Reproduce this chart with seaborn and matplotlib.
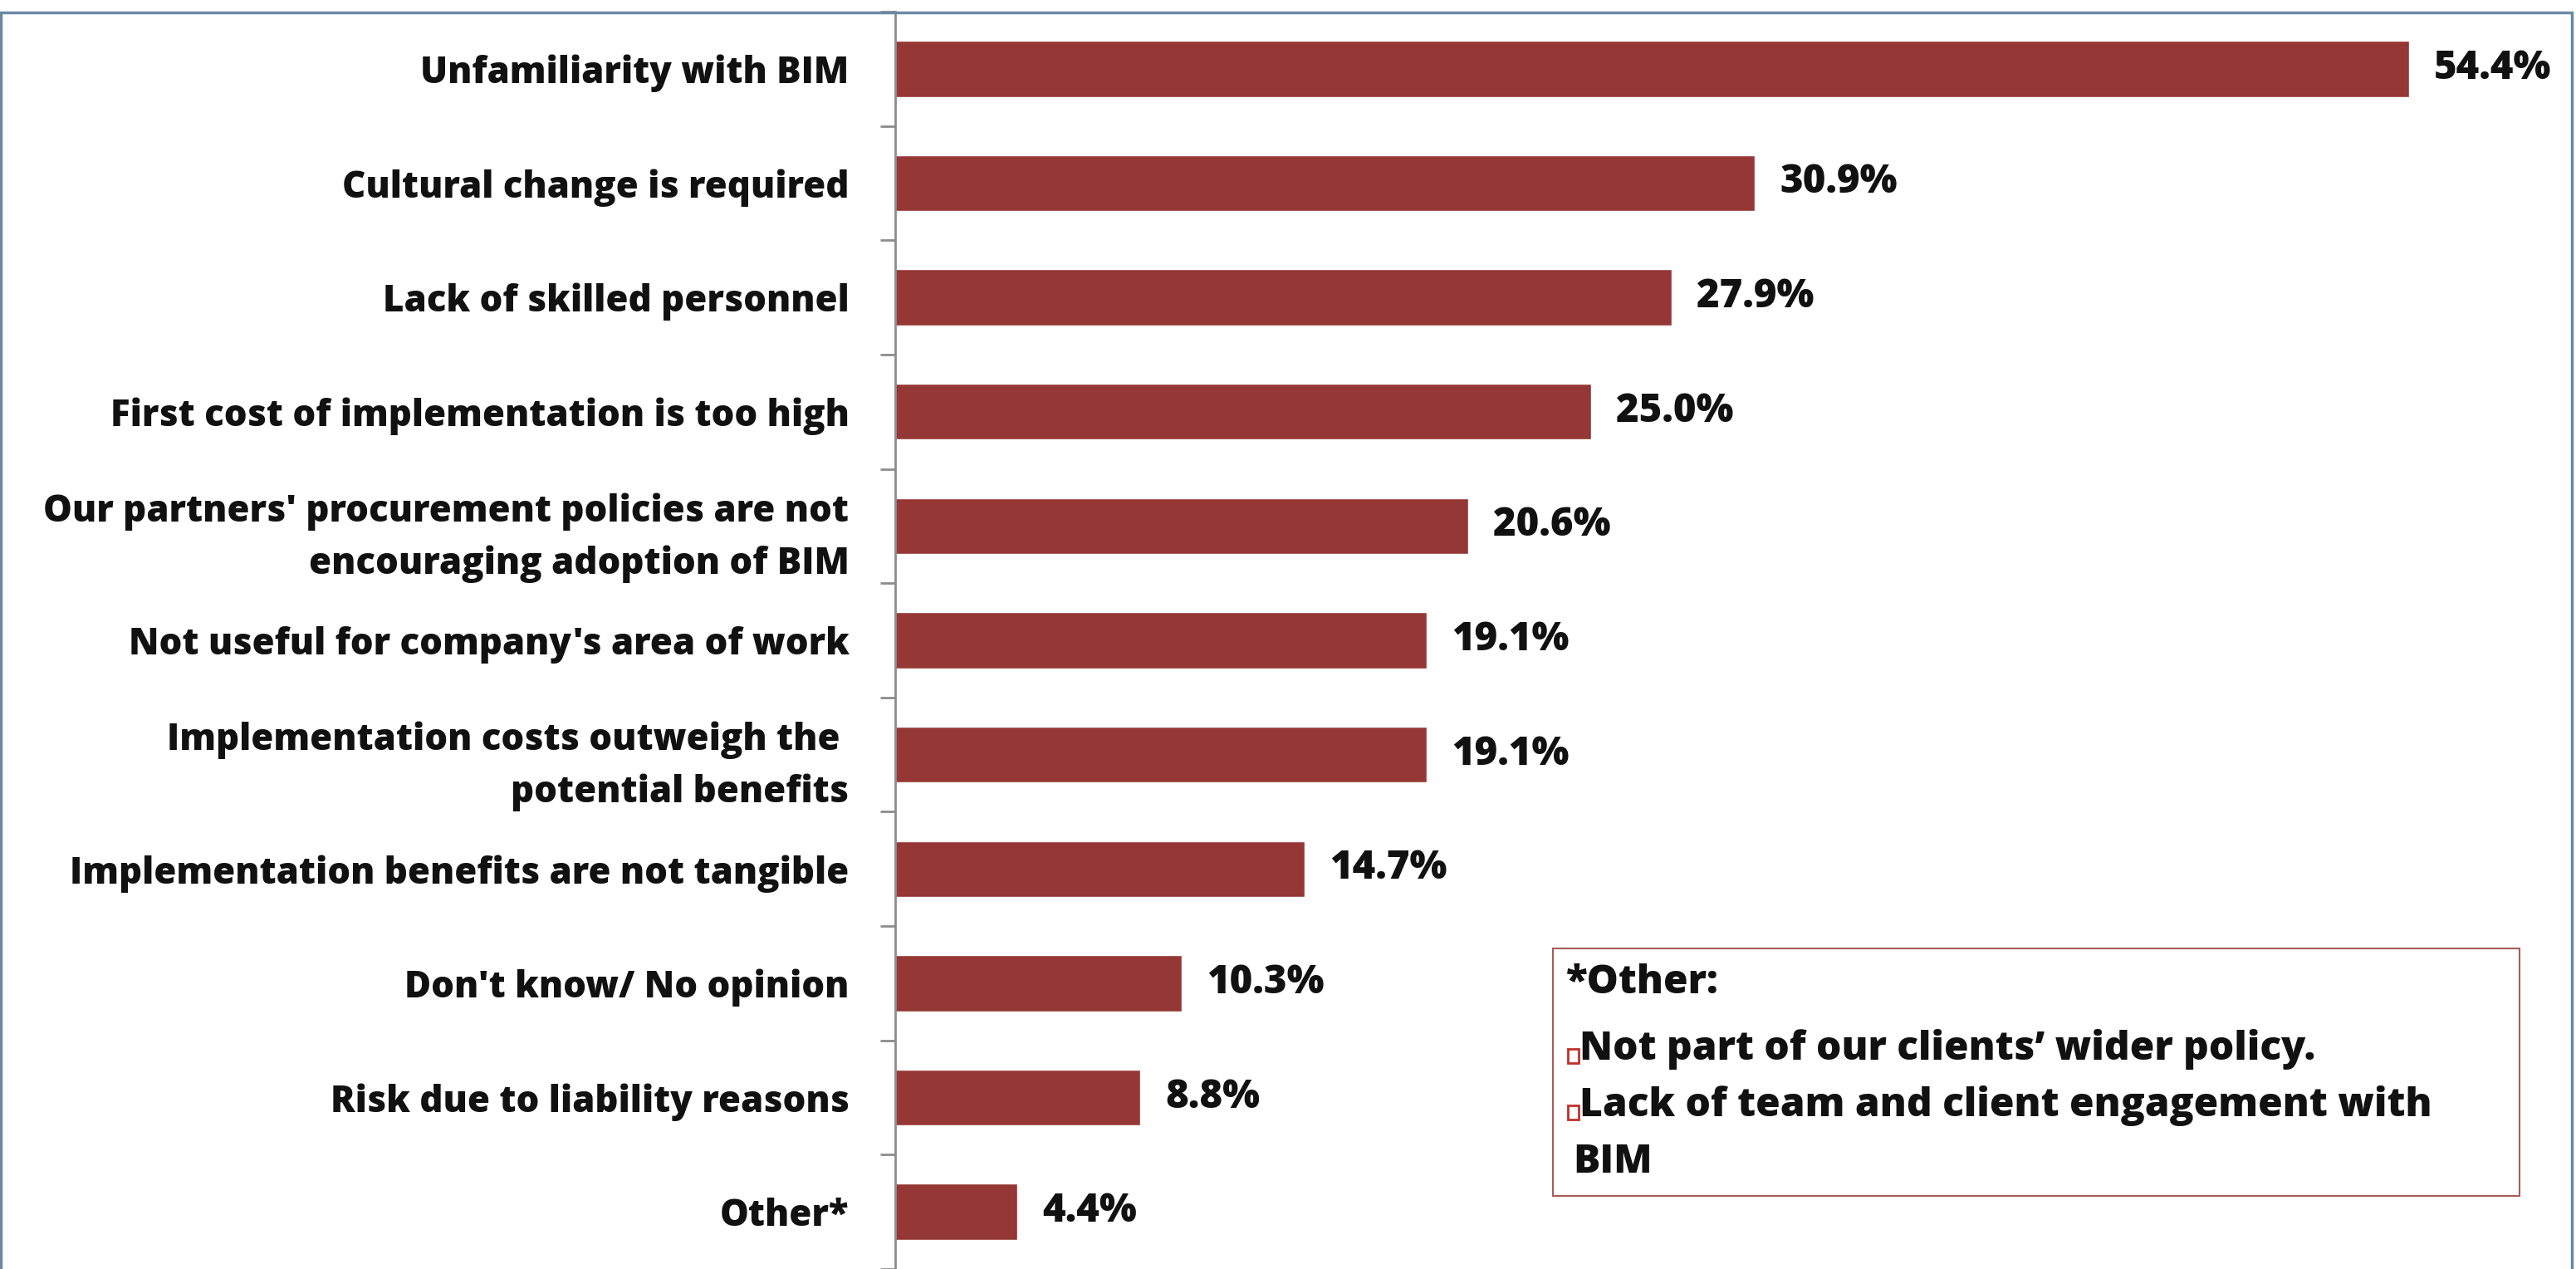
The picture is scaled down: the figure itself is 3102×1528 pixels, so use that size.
import matplotlib
matplotlib.use('Agg')
import matplotlib.pyplot as plt
import seaborn as sns
import numpy as np
from matplotlib.patches import Rectangle

# chart data
categories = [
    "Unfamiliarity with BIM",
    "Cultural change is required",
    "Lack of skilled personnel",
    "First cost of implementation is too high",
    "Our partners' procurement policies are not\nencouraging adoption of BIM",
    "Not useful for company's area of work",
    "Implementation costs outweigh the \npotential benefits",
    "Implementation benefits are not tangible",
    "Don't know/ No opinion",
    "Risk due to liability reasons",
    "Other*",
]
values = [54.4, 30.9, 27.9, 25.0, 20.6, 19.1, 19.1, 14.7, 10.3, 8.8, 4.4]
value_labels = ["54.4%", "30.9%", "27.9%", "25.0%", "20.6%", "19.1%",
                "19.1%", "14.7%", "10.3%", "8.8%", "4.4%"]
note_title = "*Other:"
note_items = ["Not part of our clients\u2019 wider policy.",
              "Lack of team and client engagement with"]
note_tail = "BIM"

sns.set_style("white")
plt.rcParams['font.family'] = ['Open Sans', 'DejaVu Sans']

W, H = 3102, 1528
fig = plt.figure(figsize=(W / 100, H / 100), dpi=100)
ax = fig.add_axes([1078 / W, 0, 1 - 1078 / W, 1 - 14 / H])

bar_color = "#953735"
sns.barplot(x=values, y=categories, orient='h', color=bar_color,
            saturation=1, width=0.49, ax=ax)

ax.set_xlim(0, 60.4)
ax.set_ylim(10.33, -0.5)
ax.set_xlabel("")
ax.set_ylabel("")
ax.set_xticks([])

for s in ['top', 'right', 'bottom']:
    ax.spines[s].set_visible(False)
ax.spines['left'].set_color('#8c8c8c')
ax.spines['left'].set_linewidth(2)

# labels on centres, tick marks between categories
ax.set_yticks(range(len(categories)))
ax.set_yticklabels(categories, fontsize=31.5, fontweight='heavy', color='#111111')
ax.tick_params(axis='y', which='major', left=False, length=0, pad=40)
ax.set_yticks(np.arange(-0.5, len(categories), 1), minor=True)
ax.tick_params(axis='y', which='minor', left=True, length=13, width=2,
               color='#8c8c8c')
for lbl in ax.get_yticklabels():
    lbl.set_multialignment('right')
    lbl.set_linespacing(1.5)

for i, (v, t) in enumerate(zip(values, value_labels)):
    ax.text(v + 0.9, i, t, va='center', ha='left', fontsize=34,
            fontweight='heavy', color='#111111')

# note box
fig.patches.append(Rectangle((1870 / W, 1 - 1440 / H), (3034 - 1870) / W,
                             (1440 - 1142) / H, transform=fig.transFigure,
                             fill=False, edgecolor='#a85c5a', linewidth=1.5))
fig.text(1886 / W, 1 - 1184 / H, note_title, fontsize=34.5, fontweight='heavy',
         va='center', ha='left', color='#111111')
for yy, item in zip([1264, 1332], note_items):
    fig.patches.append(Rectangle((1888 / W, 1 - (yy + 16) / H), 13 / W, 17 / H,
                                 transform=fig.transFigure, fill=False,
                                 edgecolor='#c0312b', linewidth=2))
    fig.text(1902 / W, 1 - yy / H, item, fontsize=34.5, fontweight='heavy',
             va='center', ha='left', color='#111111')
fig.text(1894 / W, 1 - 1400 / H, note_tail, fontsize=34.5, fontweight='heavy',
         va='center', ha='left', color='#111111')

# outer frame
fig.patches.append(Rectangle((1 / W, -0.01), 1 - 6 / W, 1.0, transform=fig.transFigure,
                             fill=False, edgecolor='#6c88a6', linewidth=2.5))

fig.savefig("out.png", dpi=100, facecolor='white')
